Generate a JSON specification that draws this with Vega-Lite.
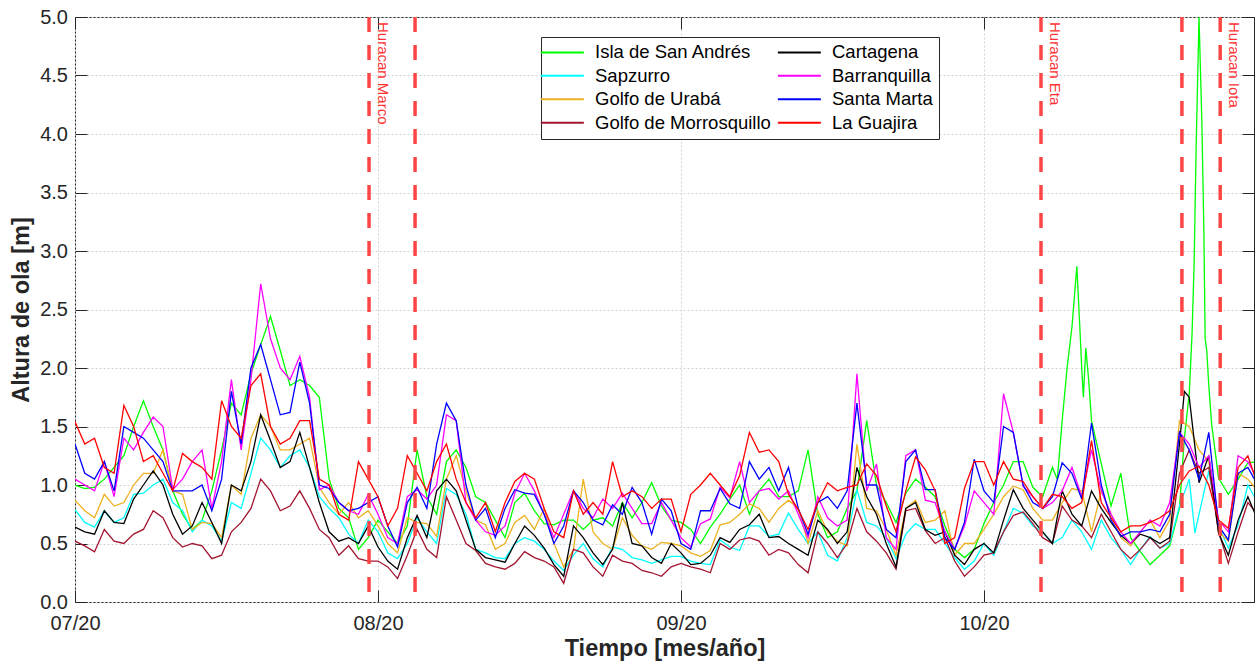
{
  "$schema": "https://vega.github.io/schema/vega-lite/v6.json",
  "width": 1179,
  "height": 585,
  "autosize": {"type": "none"},
  "padding": {"left": 75, "top": 17, "right": 1, "bottom": 59},
  "background": "white",
  "config": {
    "font": "Liberation Sans",
    "view": {"stroke": "#262626", "strokeWidth": 1},
    "axis": {
      "domain": false,
      "grid": true,
      "gridColor": "#d4d4d4",
      "gridDash": [2, 2],
      "gridWidth": 1,
      "tickColor": "#262626",
      "tickSize": -12,
      "tickWidth": 1,
      "labelFont": "Liberation Sans",
      "labelFontSize": 20,
      "labelColor": "#262626",
      "titleFont": "Liberation Sans",
      "titleFontSize": 23.5,
      "titleFontWeight": "bold",
      "titleColor": "#262626"
    }
  },
  "datasets": {
    "estaciones": [
      {"codigo": "SA", "nombre": "Isla de San Andrés"},
      {"codigo": "SZ", "nombre": "Sapzurro"},
      {"codigo": "UR", "nombre": "Golfo de Urabá"},
      {"codigo": "MO", "nombre": "Golfo de Morrosquillo"},
      {"codigo": "CT", "nombre": "Cartagena"},
      {"codigo": "BQ", "nombre": "Barranquilla"},
      {"codigo": "SM", "nombre": "Santa Marta"},
      {"codigo": "LG", "nombre": "La Guajira"}
    ],
    "huracanes": [
      {"fecha": "2020-07-31T02:00Z"},
      {"fecha": "2020-08-04T19:00Z"},
      {"fecha": "2020-10-07T20:00Z"},
      {"fecha": "2020-10-22T06:00Z"},
      {"fecha": "2020-10-26T04:00Z"}
    ],
    "etiquetas": [
      {"fecha": "2020-07-31T02:00Z", "etiqueta": "Huracan Marco"},
      {"fecha": "2020-10-07T20:00Z", "etiqueta": "Huracan Eta"},
      {"fecha": "2020-10-26T04:00Z", "etiqueta": "Huracan Iota"}
    ],
    "olas": [
      {"t": "2020-07-01", "SA": 1.0, "SZ": 0.79, "UR": 0.87, "MO": 0.52, "CT": 0.64, "BQ": 1.05, "SM": 1.35, "LG": 1.54},
      {"t": "2020-07-02", "SA": 0.97, "SZ": 0.68, "UR": 0.78, "MO": 0.48, "CT": 0.6, "BQ": 1.0, "SM": 1.1, "LG": 1.35},
      {"t": "2020-07-03", "SA": 0.98, "SZ": 0.64, "UR": 0.72, "MO": 0.43, "CT": 0.58, "BQ": 0.95, "SM": 1.05, "LG": 1.4},
      {"t": "2020-07-04", "SA": 1.05, "SZ": 0.78, "UR": 0.92, "MO": 0.62, "CT": 0.78, "BQ": 1.2, "SM": 1.2, "LG": 1.15},
      {"t": "2020-07-05", "SA": 1.15, "SZ": 0.68, "UR": 0.82, "MO": 0.52, "CT": 0.68, "BQ": 0.9, "SM": 0.95, "LG": 1.1},
      {"t": "2020-07-06", "SA": 1.25, "SZ": 0.72, "UR": 0.85, "MO": 0.5, "CT": 0.67, "BQ": 1.4, "SM": 1.5, "LG": 1.68},
      {"t": "2020-07-07", "SA": 1.5, "SZ": 0.92, "UR": 1.0, "MO": 0.58, "CT": 0.88, "BQ": 1.3, "SM": 1.45, "LG": 1.5},
      {"t": "2020-07-08", "SA": 1.72, "SZ": 0.93, "UR": 1.1, "MO": 0.62, "CT": 1.0, "BQ": 1.45, "SM": 1.4, "LG": 1.2},
      {"t": "2020-07-09", "SA": 1.5, "SZ": 1.0, "UR": 1.1, "MO": 0.78, "CT": 1.12, "BQ": 1.58, "SM": 1.3, "LG": 1.25},
      {"t": "2020-07-10", "SA": 1.3, "SZ": 1.05, "UR": 1.3, "MO": 0.72, "CT": 1.0, "BQ": 1.5, "SM": 1.2, "LG": 1.1},
      {"t": "2020-07-11", "SA": 0.95, "SZ": 0.85, "UR": 0.95, "MO": 0.55, "CT": 0.75, "BQ": 0.96, "SM": 0.95, "LG": 0.95},
      {"t": "2020-07-12", "SA": 0.75, "SZ": 0.78, "UR": 0.92, "MO": 0.47, "CT": 0.58, "BQ": 1.05, "SM": 0.95, "LG": 1.27},
      {"t": "2020-07-13", "SA": 0.62, "SZ": 0.6, "UR": 0.62, "MO": 0.5, "CT": 0.65, "BQ": 1.2, "SM": 0.95, "LG": 1.2},
      {"t": "2020-07-14", "SA": 0.7, "SZ": 0.7, "UR": 0.68, "MO": 0.48, "CT": 0.85, "BQ": 1.3, "SM": 1.0, "LG": 1.15},
      {"t": "2020-07-15", "SA": 0.95, "SZ": 0.65, "UR": 0.67, "MO": 0.37, "CT": 0.68, "BQ": 0.8, "SM": 0.78, "LG": 1.05},
      {"t": "2020-07-16", "SA": 1.3, "SZ": 0.52, "UR": 0.55, "MO": 0.4, "CT": 0.5, "BQ": 1.2, "SM": 1.05, "LG": 1.72},
      {"t": "2020-07-17", "SA": 1.7, "SZ": 0.85, "UR": 1.0, "MO": 0.6, "CT": 1.0, "BQ": 1.9, "SM": 1.8, "LG": 1.5},
      {"t": "2020-07-18", "SA": 1.6, "SZ": 0.8, "UR": 0.92, "MO": 0.68, "CT": 0.95, "BQ": 1.3, "SM": 1.35, "LG": 1.4},
      {"t": "2020-07-19", "SA": 1.95, "SZ": 1.1, "UR": 1.4, "MO": 0.8, "CT": 1.2, "BQ": 1.9, "SM": 2.0, "LG": 1.85},
      {"t": "2020-07-20", "SA": 2.2, "SZ": 1.4, "UR": 1.6, "MO": 1.05, "CT": 1.6, "BQ": 2.72, "SM": 2.2, "LG": 1.95},
      {"t": "2020-07-21", "SA": 2.44, "SZ": 1.3, "UR": 1.5, "MO": 0.95, "CT": 1.38, "BQ": 2.25, "SM": 1.9, "LG": 1.5},
      {"t": "2020-07-22", "SA": 2.15, "SZ": 1.15, "UR": 1.3, "MO": 0.78, "CT": 1.15, "BQ": 2.0, "SM": 1.6, "LG": 1.35},
      {"t": "2020-07-23", "SA": 1.85, "SZ": 1.25, "UR": 1.3, "MO": 0.82, "CT": 1.2, "BQ": 1.9, "SM": 1.62, "LG": 1.4},
      {"t": "2020-07-24", "SA": 1.9, "SZ": 1.3, "UR": 1.35, "MO": 0.95, "CT": 1.45, "BQ": 2.1, "SM": 2.05, "LG": 1.55},
      {"t": "2020-07-25", "SA": 1.85, "SZ": 1.15, "UR": 1.4, "MO": 0.8, "CT": 1.15, "BQ": 1.75, "SM": 1.7, "LG": 1.55},
      {"t": "2020-07-26", "SA": 1.75, "SZ": 0.9, "UR": 0.98, "MO": 0.62, "CT": 0.85, "BQ": 0.96, "SM": 1.0, "LG": 1.05},
      {"t": "2020-07-27", "SA": 1.05, "SZ": 0.8, "UR": 0.85, "MO": 0.55, "CT": 0.6, "BQ": 1.0, "SM": 0.97, "LG": 1.0},
      {"t": "2020-07-28", "SA": 0.8, "SZ": 0.72, "UR": 0.75, "MO": 0.4, "CT": 0.52, "BQ": 0.85, "SM": 0.85, "LG": 0.75},
      {"t": "2020-07-29", "SA": 0.72, "SZ": 0.58, "UR": 0.85, "MO": 0.48, "CT": 0.55, "BQ": 0.78, "SM": 0.78, "LG": 0.7},
      {"t": "2020-07-30", "SA": 0.45, "SZ": 0.5, "UR": 0.72, "MO": 0.37, "CT": 0.5, "BQ": 0.75, "SM": 0.8, "LG": 1.2},
      {"t": "2020-07-31", "SA": 0.55, "SZ": 0.7, "UR": 0.78, "MO": 0.35, "CT": 0.65, "BQ": 0.92, "SM": 0.85, "LG": 1.05},
      {"t": "2020-08-01", "SA": 0.7, "SZ": 0.6, "UR": 0.65, "MO": 0.35, "CT": 0.47, "BQ": 0.75, "SM": 0.9, "LG": 0.9},
      {"t": "2020-08-02", "SA": 0.6, "SZ": 0.42, "UR": 0.5, "MO": 0.3, "CT": 0.35, "BQ": 0.55, "SM": 0.65, "LG": 0.65},
      {"t": "2020-08-03", "SA": 0.5, "SZ": 0.37, "UR": 0.42, "MO": 0.2, "CT": 0.28, "BQ": 0.5, "SM": 0.47, "LG": 0.8},
      {"t": "2020-08-04", "SA": 0.65, "SZ": 0.5, "UR": 0.72, "MO": 0.4, "CT": 0.55, "BQ": 0.9, "SM": 0.85, "LG": 1.25},
      {"t": "2020-08-05", "SA": 1.3, "SZ": 0.72, "UR": 0.68, "MO": 0.62, "CT": 0.74, "BQ": 0.96, "SM": 0.98, "LG": 1.1},
      {"t": "2020-08-06", "SA": 0.9, "SZ": 0.6, "UR": 0.67, "MO": 0.45, "CT": 0.55, "BQ": 0.88, "SM": 0.8, "LG": 0.95},
      {"t": "2020-08-07", "SA": 0.75, "SZ": 0.5, "UR": 0.56, "MO": 0.38, "CT": 0.95, "BQ": 1.0, "SM": 1.35, "LG": 1.2},
      {"t": "2020-08-08", "SA": 1.2, "SZ": 0.97, "UR": 1.05, "MO": 0.9, "CT": 1.05, "BQ": 1.6, "SM": 1.7, "LG": 1.35},
      {"t": "2020-08-09", "SA": 1.3, "SZ": 0.92, "UR": 1.25, "MO": 0.7, "CT": 0.95, "BQ": 1.55, "SM": 1.55, "LG": 1.05},
      {"t": "2020-08-10", "SA": 1.15, "SZ": 0.75, "UR": 0.95, "MO": 0.5, "CT": 0.7, "BQ": 0.85, "SM": 1.0, "LG": 0.85},
      {"t": "2020-08-11", "SA": 0.9, "SZ": 0.45, "UR": 0.7, "MO": 0.44, "CT": 0.45, "BQ": 0.7, "SM": 0.7, "LG": 0.72},
      {"t": "2020-08-12", "SA": 0.85, "SZ": 0.42, "UR": 0.66, "MO": 0.33, "CT": 0.38, "BQ": 0.6, "SM": 0.8, "LG": 0.85},
      {"t": "2020-08-13", "SA": 0.7, "SZ": 0.38, "UR": 0.45, "MO": 0.3, "CT": 0.36, "BQ": 0.57, "SM": 0.55, "LG": 0.6},
      {"t": "2020-08-14", "SA": 0.55, "SZ": 0.37, "UR": 0.5, "MO": 0.28, "CT": 0.34, "BQ": 0.65, "SM": 0.8, "LG": 0.85},
      {"t": "2020-08-15", "SA": 0.85, "SZ": 0.5, "UR": 0.68, "MO": 0.33, "CT": 0.5, "BQ": 0.93, "SM": 0.96, "LG": 1.03},
      {"t": "2020-08-16", "SA": 0.93, "SZ": 0.55, "UR": 0.74, "MO": 0.43, "CT": 0.65, "BQ": 1.1, "SM": 0.93, "LG": 1.1},
      {"t": "2020-08-17", "SA": 0.78, "SZ": 0.52, "UR": 0.62, "MO": 0.38, "CT": 0.57, "BQ": 0.95, "SM": 0.92, "LG": 1.05},
      {"t": "2020-08-18", "SA": 0.67, "SZ": 0.45, "UR": 0.8, "MO": 0.35, "CT": 0.46, "BQ": 0.75, "SM": 0.75, "LG": 0.8},
      {"t": "2020-08-19", "SA": 0.66, "SZ": 0.35, "UR": 0.5, "MO": 0.3, "CT": 0.32, "BQ": 0.55, "SM": 0.5, "LG": 0.6},
      {"t": "2020-08-20", "SA": 0.7, "SZ": 0.27, "UR": 0.3, "MO": 0.16, "CT": 0.22, "BQ": 0.75, "SM": 0.65, "LG": 0.55},
      {"t": "2020-08-21", "SA": 0.7, "SZ": 0.4, "UR": 0.45, "MO": 0.45, "CT": 0.65, "BQ": 0.95, "SM": 0.95, "LG": 0.95},
      {"t": "2020-08-22", "SA": 0.62, "SZ": 0.5, "UR": 1.05, "MO": 0.42, "CT": 0.55, "BQ": 0.8, "SM": 0.85, "LG": 0.75},
      {"t": "2020-08-23", "SA": 0.7, "SZ": 0.37, "UR": 0.6, "MO": 0.3, "CT": 0.42, "BQ": 0.72, "SM": 0.7, "LG": 0.85},
      {"t": "2020-08-24", "SA": 0.72, "SZ": 0.3, "UR": 0.5, "MO": 0.22, "CT": 0.32, "BQ": 0.88, "SM": 0.66, "LG": 0.75},
      {"t": "2020-08-25", "SA": 0.65, "SZ": 0.47, "UR": 0.45, "MO": 0.4, "CT": 0.45, "BQ": 0.8, "SM": 0.83, "LG": 1.2},
      {"t": "2020-08-26", "SA": 0.85, "SZ": 0.45, "UR": 0.72, "MO": 0.35, "CT": 0.85, "BQ": 0.93, "SM": 0.75, "LG": 0.9},
      {"t": "2020-08-27", "SA": 0.72, "SZ": 0.38, "UR": 0.57, "MO": 0.33, "CT": 0.5, "BQ": 0.8, "SM": 0.98, "LG": 0.95},
      {"t": "2020-08-28", "SA": 0.85, "SZ": 0.36, "UR": 0.48, "MO": 0.27, "CT": 0.48, "BQ": 0.67, "SM": 0.85, "LG": 0.9},
      {"t": "2020-08-29", "SA": 1.02, "SZ": 0.33, "UR": 0.45, "MO": 0.25, "CT": 0.38, "BQ": 0.67, "SM": 0.58, "LG": 0.8},
      {"t": "2020-08-30", "SA": 0.82, "SZ": 0.36, "UR": 0.51, "MO": 0.22, "CT": 0.33, "BQ": 0.85, "SM": 0.88, "LG": 0.88},
      {"t": "2020-08-31", "SA": 0.7, "SZ": 0.39, "UR": 0.5, "MO": 0.3, "CT": 0.5, "BQ": 0.7, "SM": 0.78, "LG": 0.88},
      {"t": "2020-09-01", "SA": 0.68, "SZ": 0.39, "UR": 0.48, "MO": 0.33, "CT": 0.42, "BQ": 0.55, "SM": 0.5, "LG": 0.6},
      {"t": "2020-09-02", "SA": 0.62, "SZ": 0.35, "UR": 0.42, "MO": 0.3, "CT": 0.32, "BQ": 0.47, "SM": 0.45, "LG": 0.92},
      {"t": "2020-09-03", "SA": 0.5, "SZ": 0.33, "UR": 0.39, "MO": 0.28, "CT": 0.33, "BQ": 0.67, "SM": 0.78, "LG": 1.0},
      {"t": "2020-09-04", "SA": 0.64, "SZ": 0.32, "UR": 0.44, "MO": 0.25, "CT": 0.4, "BQ": 0.71, "SM": 0.78, "LG": 1.1},
      {"t": "2020-09-05", "SA": 0.75, "SZ": 0.53, "UR": 0.66, "MO": 0.5, "CT": 0.55, "BQ": 0.98, "SM": 0.97, "LG": 1.0},
      {"t": "2020-09-06", "SA": 0.88, "SZ": 0.47, "UR": 0.68, "MO": 0.45, "CT": 0.51, "BQ": 0.89, "SM": 0.84, "LG": 0.9},
      {"t": "2020-09-07", "SA": 1.0, "SZ": 0.44, "UR": 0.75, "MO": 0.53, "CT": 0.62, "BQ": 1.2, "SM": 0.8, "LG": 1.08},
      {"t": "2020-09-08", "SA": 0.75, "SZ": 0.65, "UR": 0.84, "MO": 0.55, "CT": 0.66, "BQ": 0.85, "SM": 1.2, "LG": 1.45},
      {"t": "2020-09-09", "SA": 0.95, "SZ": 0.65, "UR": 0.8, "MO": 0.52, "CT": 0.75, "BQ": 0.95, "SM": 1.05, "LG": 1.28},
      {"t": "2020-09-10", "SA": 1.05, "SZ": 0.56, "UR": 0.68, "MO": 0.4, "CT": 0.55, "BQ": 0.97, "SM": 1.15, "LG": 1.3},
      {"t": "2020-09-11", "SA": 0.9, "SZ": 0.58, "UR": 0.8, "MO": 0.45, "CT": 0.56, "BQ": 0.88, "SM": 0.95, "LG": 1.2},
      {"t": "2020-09-12", "SA": 0.9, "SZ": 0.76, "UR": 0.87, "MO": 0.42, "CT": 0.5, "BQ": 0.95, "SM": 1.15, "LG": 0.92},
      {"t": "2020-09-13", "SA": 0.95, "SZ": 0.62, "UR": 0.8, "MO": 0.32, "CT": 0.45, "BQ": 0.75, "SM": 0.8, "LG": 0.79},
      {"t": "2020-09-14", "SA": 1.3, "SZ": 0.5, "UR": 0.5, "MO": 0.25, "CT": 0.4, "BQ": 0.55, "SM": 0.58, "LG": 0.62},
      {"t": "2020-09-15", "SA": 0.75, "SZ": 0.6, "UR": 0.78, "MO": 0.6, "CT": 0.7, "BQ": 0.9, "SM": 0.85, "LG": 0.85},
      {"t": "2020-09-16", "SA": 0.55, "SZ": 0.4, "UR": 0.6, "MO": 0.5, "CT": 0.62, "BQ": 0.72, "SM": 0.9, "LG": 1.02},
      {"t": "2020-09-17", "SA": 0.6, "SZ": 0.35, "UR": 0.52, "MO": 0.38, "CT": 0.5, "BQ": 0.65, "SM": 0.8, "LG": 0.95},
      {"t": "2020-09-18", "SA": 0.8, "SZ": 0.55, "UR": 0.48, "MO": 0.5, "CT": 0.6, "BQ": 0.7, "SM": 0.95, "LG": 0.98},
      {"t": "2020-09-19", "SA": 0.95, "SZ": 0.96, "UR": 1.35, "MO": 0.8, "CT": 1.15, "BQ": 1.95, "SM": 1.7, "LG": 1.0},
      {"t": "2020-09-20", "SA": 1.55, "SZ": 0.68, "UR": 0.8, "MO": 0.6, "CT": 0.9, "BQ": 0.95, "SM": 1.0, "LG": 1.18},
      {"t": "2020-09-21", "SA": 1.0, "SZ": 0.65, "UR": 0.78, "MO": 0.52, "CT": 0.75, "BQ": 1.18, "SM": 1.0, "LG": 1.08},
      {"t": "2020-09-22", "SA": 0.85, "SZ": 0.55, "UR": 0.62, "MO": 0.42, "CT": 0.5, "BQ": 0.55, "SM": 0.62, "LG": 0.82},
      {"t": "2020-09-23", "SA": 0.68, "SZ": 0.37, "UR": 0.4, "MO": 0.28, "CT": 0.3, "BQ": 0.45, "SM": 0.55, "LG": 0.6},
      {"t": "2020-09-24", "SA": 0.93, "SZ": 0.58, "UR": 0.8, "MO": 0.78, "CT": 0.8, "BQ": 1.25, "SM": 1.2, "LG": 0.95},
      {"t": "2020-09-25", "SA": 1.05, "SZ": 0.67, "UR": 0.87, "MO": 0.8, "CT": 0.85, "BQ": 1.3, "SM": 1.3, "LG": 1.24},
      {"t": "2020-09-26", "SA": 0.98, "SZ": 0.62, "UR": 0.68, "MO": 0.61, "CT": 0.62, "BQ": 0.87, "SM": 0.96, "LG": 1.13},
      {"t": "2020-09-27", "SA": 0.9, "SZ": 0.62, "UR": 0.7, "MO": 0.5, "CT": 0.57, "BQ": 0.85, "SM": 0.96, "LG": 0.95},
      {"t": "2020-09-28", "SA": 0.65, "SZ": 0.5, "UR": 0.78, "MO": 0.55, "CT": 0.6, "BQ": 0.6, "SM": 0.55, "LG": 0.5},
      {"t": "2020-09-29", "SA": 0.45, "SZ": 0.38, "UR": 0.4, "MO": 0.35, "CT": 0.4, "BQ": 0.45, "SM": 0.45, "LG": 0.55},
      {"t": "2020-09-30", "SA": 0.38, "SZ": 0.28, "UR": 0.5, "MO": 0.22, "CT": 0.32, "BQ": 0.65, "SM": 0.68, "LG": 0.97},
      {"t": "2020-10-01", "SA": 0.45, "SZ": 0.35, "UR": 0.5, "MO": 0.3, "CT": 0.45, "BQ": 0.95, "SM": 1.22, "LG": 1.2},
      {"t": "2020-10-02", "SA": 0.67, "SZ": 0.5, "UR": 0.62, "MO": 0.4, "CT": 0.5, "BQ": 0.85, "SM": 0.95, "LG": 1.2},
      {"t": "2020-10-03", "SA": 0.85, "SZ": 0.4, "UR": 0.75, "MO": 0.42, "CT": 0.42, "BQ": 0.75, "SM": 0.85, "LG": 1.0},
      {"t": "2020-10-04", "SA": 1.0, "SZ": 0.6, "UR": 0.9, "MO": 0.6, "CT": 0.7, "BQ": 1.78, "SM": 1.5, "LG": 1.2},
      {"t": "2020-10-05", "SA": 1.2, "SZ": 0.8, "UR": 0.99, "MO": 0.74, "CT": 0.96, "BQ": 1.45, "SM": 1.45, "LG": 1.05},
      {"t": "2020-10-06", "SA": 1.2, "SZ": 0.76, "UR": 0.96, "MO": 0.77, "CT": 0.8, "BQ": 0.99, "SM": 1.0, "LG": 1.03},
      {"t": "2020-10-07", "SA": 0.98, "SZ": 0.65, "UR": 0.8, "MO": 0.67, "CT": 0.7, "BQ": 0.9, "SM": 0.85, "LG": 0.9},
      {"t": "2020-10-08", "SA": 0.9, "SZ": 0.6, "UR": 0.7, "MO": 0.55, "CT": 0.6, "BQ": 0.8, "SM": 0.8, "LG": 0.8},
      {"t": "2020-10-09", "SA": 1.15, "SZ": 0.5, "UR": 0.7, "MO": 0.5, "CT": 0.5, "BQ": 0.85, "SM": 0.9, "LG": 0.92},
      {"t": "2020-10-10", "SA": 1.55, "SZ": 0.55, "UR": 0.85, "MO": 0.82, "CT": 0.95, "BQ": 0.95, "SM": 1.19, "LG": 0.9},
      {"t": "2020-10-11", "SA": 2.35, "SZ": 0.7, "UR": 0.97, "MO": 0.7, "CT": 0.75, "BQ": 1.15, "SM": 1.1, "LG": 0.8},
      {"t": "2020-10-12", "SA": 2.0, "SZ": 0.6, "UR": 0.95, "MO": 0.65, "CT": 0.65, "BQ": 0.9, "SM": 0.88, "LG": 0.85},
      {"t": "2020-10-13", "SA": 1.55, "SZ": 0.45, "UR": 0.6, "MO": 0.55, "CT": 0.95, "BQ": 1.3, "SM": 1.53, "LG": 1.38},
      {"t": "2020-10-14", "SA": 1.18, "SZ": 0.7, "UR": 0.95, "MO": 0.75, "CT": 0.8, "BQ": 0.95, "SM": 1.0, "LG": 0.85},
      {"t": "2020-10-15", "SA": 0.82, "SZ": 0.55, "UR": 0.75, "MO": 0.6, "CT": 0.68, "BQ": 0.75, "SM": 0.7, "LG": 0.72},
      {"t": "2020-10-16", "SA": 1.1, "SZ": 0.45, "UR": 0.55, "MO": 0.45, "CT": 0.57, "BQ": 0.6, "SM": 0.56, "LG": 0.6},
      {"t": "2020-10-17", "SA": 0.55, "SZ": 0.32, "UR": 0.48, "MO": 0.37, "CT": 0.5, "BQ": 0.5, "SM": 0.6, "LG": 0.65},
      {"t": "2020-10-18", "SA": 0.43, "SZ": 0.45, "UR": 0.6, "MO": 0.45, "CT": 0.58, "BQ": 0.6, "SM": 0.6, "LG": 0.65},
      {"t": "2020-10-19", "SA": 0.32, "SZ": 0.56, "UR": 0.7, "MO": 0.55, "CT": 0.55, "BQ": 0.7, "SM": 0.62, "LG": 0.68},
      {"t": "2020-10-20", "SA": 0.4, "SZ": 0.46, "UR": 0.55, "MO": 0.46, "CT": 0.5, "BQ": 0.65, "SM": 0.6, "LG": 0.72},
      {"t": "2020-10-21", "SA": 0.48, "SZ": 0.5, "UR": 0.7, "MO": 0.52, "CT": 0.55, "BQ": 0.85, "SM": 0.75, "LG": 0.78},
      {"t": "2020-10-22", "SA": 0.8, "SZ": 0.82, "UR": 1.55, "MO": 1.1, "CT": 1.35, "BQ": 1.45, "SM": 1.45, "LG": 1.0},
      {"t": "2020-10-23", "SA": 1.78, "SZ": 1.05, "UR": 1.5, "MO": 1.3, "CT": 1.75, "BQ": 1.35, "SM": 1.3, "LG": 1.12},
      {"t": "2020-10-24", "SA": 5.0, "SZ": 0.75, "UR": 1.3, "MO": 1.1, "CT": 1.02, "BQ": 1.15, "SM": 1.05, "LG": 1.16},
      {"t": "2020-10-25", "SA": 1.85, "SZ": 1.12, "UR": 1.2, "MO": 1.15, "CT": 1.25, "BQ": 1.25, "SM": 1.45, "LG": 1.0},
      {"t": "2020-10-26", "SA": 1.06, "SZ": 0.65, "UR": 0.6, "MO": 0.6, "CT": 0.59, "BQ": 0.7, "SM": 0.65, "LG": 0.7},
      {"t": "2020-10-27", "SA": 0.92, "SZ": 0.46, "UR": 0.52, "MO": 0.33, "CT": 0.4, "BQ": 0.6, "SM": 0.53, "LG": 0.63},
      {"t": "2020-10-28", "SA": 1.05, "SZ": 0.66, "UR": 1.1, "MO": 0.6, "CT": 0.7, "BQ": 1.25, "SM": 1.1, "LG": 1.15},
      {"t": "2020-10-29", "SA": 1.19, "SZ": 1.0, "UR": 1.05, "MO": 0.85, "CT": 0.9, "BQ": 1.2, "SM": 1.15, "LG": 1.25},
      {"t": "2020-10-30", "SA": 1.2, "SZ": 0.85, "UR": 0.95, "MO": 0.75, "CT": 0.7, "BQ": 1.05, "SM": 1.0, "LG": 1.0},
      {"t": "2020-10-09T12:00Z", "SA": 1.05},
      {"t": "2020-10-10T12:00Z", "SA": 2.0},
      {"t": "2020-10-11T12:00Z", "SA": 2.87},
      {"t": "2020-10-11T20:00Z", "SA": 2.3},
      {"t": "2020-10-12T04:00Z", "SA": 1.75},
      {"t": "2020-10-12T10:00Z", "SA": 2.17},
      {"t": "2020-10-12T17:00Z", "SA": 1.9},
      {"t": "2020-10-22T12:00Z", "SA": 1.4, "CT": 1.8},
      {"t": "2020-10-23T07:00Z", "SA": 2.3},
      {"t": "2020-10-23T12:00Z", "SA": 2.9},
      {"t": "2020-10-23T14:00Z", "SZ": 0.59},
      {"t": "2020-10-23T17:00Z", "SA": 3.9},
      {"t": "2020-10-24T07:00Z", "SA": 4.1},
      {"t": "2020-10-24T12:00Z", "SA": 3.15},
      {"t": "2020-10-24T15:00Z", "SA": 2.25},
      {"t": "2020-10-24T19:00Z", "SA": 2.15},
      {"t": "2020-10-25T07:00Z", "SA": 1.52}
    ]
  },
  "resolve": {"axis": {"x": "independent", "y": "independent"}},
  "layer": [
    {
      "data": {"name": "olas"},
      "transform": [
        {"fold": ["SA", "SZ", "UR", "MO", "CT", "BQ", "SM", "LG"], "as": ["estacion", "altura"]},
        {"filter": {"field": "altura", "valid": true}},
        {"lookup": "estacion", "from": {"data": {"name": "estaciones"}, "key": "codigo", "fields": ["nombre"]}}
      ],
      "mark": {"type": "line", "strokeWidth": 1.3, "clip": true},
      "encoding": {
        "x": {
          "field": "t",
          "type": "temporal",
          "scale": {
            "type": "utc",
            "domain": [
              {"year": 2020, "month": 7, "date": 1, "utc": true},
              {"year": 2020, "month": 10, "date": 29, "hours": 15, "utc": true}
            ]
          },
          "axis": {
            "orient": "bottom",
            "title": "Tiempo [mes/año]",
            "values": [
              {"year": 2020, "month": 7, "date": 1, "utc": true},
              {"year": 2020, "month": 8, "date": 1, "utc": true},
              {"year": 2020, "month": 9, "date": 1, "utc": true},
              {"year": 2020, "month": 10, "date": 2, "utc": true}
            ],
            "labelExpr": "utcFormat(datum.value, '%m/%y')",
            "labelFlush": false,
            "labelPadding": 23,
            "titleY": 53,
            "titleBaseline": "alphabetic"
          }
        },
        "y": {
          "field": "altura",
          "type": "quantitative",
          "scale": {"domain": [0, 5], "nice": false, "zero": false},
          "axis": {
            "orient": "left",
            "title": "Altura de ola [m]",
            "values": [0, 0.5, 1, 1.5, 2, 2.5, 3, 3.5, 4, 4.5, 5],
            "format": ".1f",
            "labelPadding": 19.5,
            "titleX": -47,
            "titleY": 292.5,
            "titleAngle": -90,
            "titleAlign": "center",
            "titleBaseline": "alphabetic"
          }
        },
        "color": {
          "field": "nombre",
          "type": "nominal",
          "scale": {
            "domain": ["Isla de San Andrés", "Sapzurro", "Golfo de Urabá", "Golfo de Morrosquillo", "Cartagena", "Barranquilla", "Santa Marta", "La Guajira"],
            "range": ["#00ff00", "#00ffff", "#edb120", "#a2142f", "#000000", "#ff00ff", "#0000ff", "#ff0000"]
          },
          "legend": {
            "title": null,
            "orient": "none",
            "legendX": 466,
            "legendY": 20,
            "columns": 2,
            "symbolType": "M-4.3,0H4.3",
            "symbolSize": 100,
            "symbolStrokeWidth": 2,
            "symbolOffset": 6.1,
            "labelFont": "Liberation Sans",
            "labelFontSize": 18.5,
            "labelColor": "#000000",
            "labelOffset": 23.4,
            "labelLimit": 400,
            "columnPadding": 2,
            "rowPadding": 4.5,
            "padding": 6,
            "strokeColor": "#262626",
            "fillColor": "white"
          }
        }
      }
    },
    {
      "data": {"name": "huracanes"},
      "mark": {"type": "rule", "color": "#ff4646", "strokeWidth": 3.5, "strokeDash": [15, 13]},
      "encoding": {
        "x": {"field": "fecha", "type": "temporal", "scale": {"type": "utc"}, "axis": null}
      }
    },
    {
      "data": {"name": "etiquetas"},
      "mark": {
        "type": "text",
        "angle": 90,
        "align": "left",
        "baseline": "middle",
        "dx": 5,
        "dy": -14,
        "font": "Liberation Sans",
        "fontSize": 15,
        "color": "#ff3333"
      },
      "encoding": {
        "x": {
          "field": "fecha",
          "type": "temporal",
          "scale": {"type": "utc"},
          "axis": {
            "orient": "top",
            "labels": false,
            "title": null,
            "grid": false,
            "values": [
              {"year": 2020, "month": 7, "date": 1, "utc": true},
              {"year": 2020, "month": 8, "date": 1, "utc": true},
              {"year": 2020, "month": 9, "date": 1, "utc": true},
              {"year": 2020, "month": 10, "date": 2, "utc": true}
            ]
          }
        },
        "y": {
          "datum": 5,
          "type": "quantitative",
          "axis": {
            "orient": "right",
            "labels": false,
            "title": null,
            "grid": false,
            "values": [0, 0.5, 1, 1.5, 2, 2.5, 3, 3.5, 4, 4.5, 5]
          }
        },
        "text": {"field": "etiqueta"}
      }
    }
  ]
}
